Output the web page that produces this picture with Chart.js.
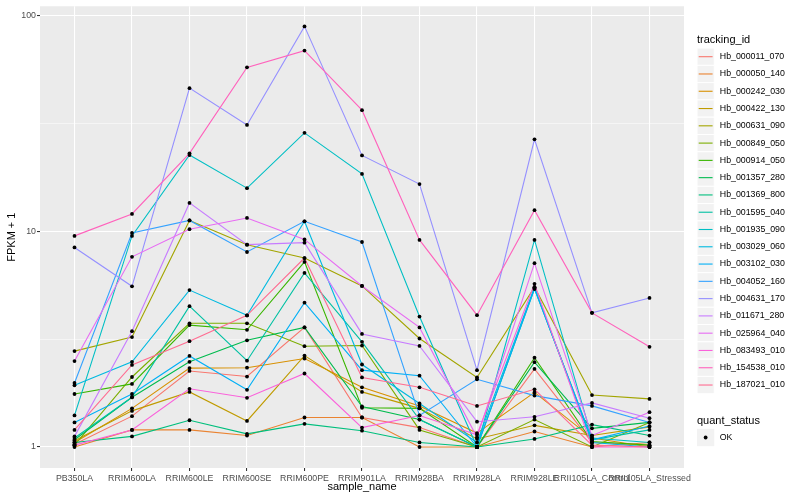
<!DOCTYPE html>
<html><head><meta charset="utf-8">
<script src="https://cdn.jsdelivr.net/npm/chart.js@4/dist/chart.umd.min.js"></script>
<style>html,body{margin:0;padding:0;background:#fff;}canvas{display:block;}</style>
</head><body>
<canvas id="c" width="800" height="500"></canvas>
<script>
const categories = ["PB350LA","RRIM600LA","RRIM600LE","RRIM600SE","RRIM600PE","RRIM901LA","RRIM928BA","RRIM928LA","RRIM928LE","RRII105LA_Control","RRII105LA_Stressed"];
const trackingIds = ["Hb_000011_070","Hb_000050_140","Hb_000242_030","Hb_000422_130","Hb_000631_090","Hb_000849_050","Hb_000914_050","Hb_001357_280","Hb_001369_800","Hb_001595_040","Hb_001935_090","Hb_003029_060","Hb_003102_030","Hb_004052_160","Hb_004631_170","Hb_011671_280","Hb_025964_040","Hb_083493_010","Hb_154538_010","Hb_187021_010"];
const seriesColors = ["#F8766D","#EA8331","#D89000","#C09B00","#A3A500","#7CAE00","#39B600","#00BB4E","#00BF7D","#00C1A3","#00BFC4","#00BAE0","#00B0F6","#35A2FF","#9590FF","#C77CFF","#E76BF3","#FA62DB","#FF62BC","#FF6C91"];

const hb_000011_070 = [1.03, 1.39, 2.25, 2.12, 3.58, 1.37, 1.23, 1.0, 2.3, 1.05, 1.02];
const hb_000050_140 = [1.0, 1.2, 1.2, 1.13, 1.37, 1.37, 1.0, 1.0, 1.18, 1.0, 1.05];
const hb_000242_030 = [1.05, 1.51, 2.32, 2.33, 2.57, 1.89, 1.55, 1.16, 1.79, 1.1, 1.0];
const hb_000422_130 = [1.07, 1.47, 1.8, 1.32, 2.65, 1.8, 1.51, 1.09, 1.26, 1.13, 1.24];
const hb_000631_090 = [2.78, 3.23, 11.2, 8.65, 7.5, 5.57, 3.18, 2.1, 5.5, 1.74, 1.67];
const hb_000849_050 = [1.02, 2.11, 3.74, 3.74, 2.93, 2.95, 1.2, 1.0, 1.34, 1.0, 1.3];
const hb_000914_050 = [1.76, 1.96, 3.67, 3.49, 7.2, 1.52, 1.51, 1.0, 2.59, 1.06, 1.02];
const hb_001357_280 = [1.08, 1.7, 2.48, 3.12, 3.58, 1.54, 1.34, 1.0, 2.47, 1.22, 1.3];
const hb_001369_800 = [1.05, 1.12, 1.33, 1.15, 1.28, 1.19, 1.05, 1.0, 1.09, 1.27, 1.13];
const hb_001595_040 = [1.1, 1.7, 4.49, 2.51, 6.4, 3.07, 1.34, 1.0, 5.4, 1.08, 1.2];
const hb_001935_090 = [1.4, 9.5, 22.5, 15.8, 28.5, 18.4, 4.02, 1.0, 9.1, 1.1, 1.05];
const hb_003029_060 = [1.93, 2.48, 5.33, 4.07, 11.1, 2.41, 1.59, 1.05, 5.5, 1.05, 1.0];
const hb_003102_030 = [1.3, 1.76, 2.64, 1.84, 4.66, 2.27, 2.14, 1.0, 5.4, 1.08, 1.25];
const hb_004052_160 = [1.98, 9.8, 11.2, 8.0, 11.1, 8.9, 1.4, 2.06, 1.73, 1.55, 1.3];
const hb_004631_170 = [8.4, 5.55, 45.9, 31, 88.7, 22.4, 16.5, 2.27, 26.6, 4.18, 4.9];
const hb_011671_280 = [1.12, 3.44, 13.5, 8.65, 8.84, 3.34, 2.94, 1.31, 1.38, 1.6, 1.36];
const hb_025964_040 = [2.5, 7.6, 10.2, 11.5, 9.15, 5.57, 3.58, 1.11, 7.1, 1.13, 1.45];
const hb_083493_010 = [1.02, 1.2, 1.86, 1.69, 2.19, 1.23, 1.4, 1.14, 5.7, 1.0, 1.0];
const hb_154538_010 = [9.5, 12, 22.9, 57.3, 68.5, 36.3, 9.1, 4.08, 12.5, 4.18, 2.91];
const hb_187021_010 = [1.2, 2.4, 3.09, 4.07, 7.5, 2.1, 1.89, 1.55, 1.85, 1.02, 1.0];

const seriesValues = [hb_000011_070, hb_000050_140, hb_000242_030, hb_000422_130, hb_000631_090, hb_000849_050, hb_000914_050, hb_001357_280, hb_001369_800, hb_001595_040, hb_001935_090, hb_003029_060, hb_003102_030, hb_004052_160, hb_004631_170, hb_011671_280, hb_025964_040, hb_083493_010, hb_154538_010, hb_187021_010];

const yMajorTicks = [1, 10, 100];
const yMinorTicks = [Math.sqrt(10), Math.sqrt(1000)];

const FONT = '"Liberation Sans", Arial, Helvetica, sans-serif';

const lineDatasets = seriesValues.map((vals, k) => ({
  label: trackingIds[k],
  data: vals.map((v, i) => ({x: i, y: v})),
  borderColor: seriesColors[k],
  backgroundColor: seriesColors[k],
  borderWidth: 1.1,
  pointRadius: 0,
  tension: 0,
  fill: false,
  order: 100 - k
}));
const pointDataset = {
  label: 'OK',
  data: seriesValues.flatMap(vals => vals.map((v, i) => ({x: i, y: v}))),
  showLine: false,
  pointRadius: 1.9,
  pointStyle: 'circle',
  pointBackgroundColor: '#000',
  pointBorderColor: '#000',
  pointBorderWidth: 0,
  order: 0
};

const panelBg = {
  id: 'panelBg',
  beforeDraw(chart) {
    const {ctx, chartArea: a} = chart;
    ctx.save();
    ctx.fillStyle = '#EBEBEB';
    ctx.fillRect(a.left, a.top, a.right - a.left, a.bottom - a.top);
    ctx.restore();
  }
};

const ggDecor = {
  id: 'ggDecor',
  afterDraw(chart) {
    const {ctx, chartArea: a} = chart;
    ctx.save();
    // axis titles
    ctx.fillStyle = '#000';
    ctx.font = '11px ' + FONT;
    ctx.textAlign = 'center';
    ctx.textBaseline = 'middle';
    ctx.fillText('sample_name', (a.left + a.right) / 2, 487);
    ctx.save();
    ctx.translate(12, (a.top + a.bottom) / 2);
    ctx.rotate(-Math.PI / 2);
    ctx.fillText('FPKM + 1', 0, 0);
    ctx.restore();
    // legend
    const lx = 697, key = 17.28;
    ctx.textAlign = 'left';
    ctx.font = '11px ' + FONT;
    ctx.fillText('tracking_id', lx, 40);
    ctx.font = '8.8px ' + FONT;
    trackingIds.forEach((id, k) => {
      const cy = 56.7 + key * k;
      ctx.fillStyle = '#F2F2F2';
      ctx.fillRect(lx, cy - key / 2, key, key);
      ctx.strokeStyle = '#FFFFFF';
      ctx.lineWidth = 1;
      ctx.strokeRect(lx, cy - key / 2, key, key);
      ctx.strokeStyle = seriesColors[k];
      ctx.lineWidth = 1.1;
      ctx.beginPath();
      ctx.moveTo(lx + 1.7, cy);
      ctx.lineTo(lx + key - 1.7, cy);
      ctx.stroke();
      ctx.fillStyle = '#000';
      ctx.fillText(id, lx + key + 5.5, cy);
    });
    ctx.font = '11px ' + FONT;
    ctx.fillText('quant_status', lx, 421);
    const cy2 = 437.5;
    ctx.fillStyle = '#F2F2F2';
    ctx.fillRect(lx, cy2 - key / 2, key, key);
    ctx.fillStyle = '#000';
    ctx.beginPath();
    ctx.arc(lx + key / 2, cy2, 1.9, 0, Math.PI * 2);
    ctx.fill();
    ctx.font = '8.8px ' + FONT;
    ctx.fillText('OK', lx + key + 5.5, cy2);
    ctx.restore();
  }
};

new Chart(document.getElementById('c'), {
  type: 'line',
  data: {datasets: [...lineDatasets, pointDataset]},
  options: {
    responsive: false,
    animation: false,
    devicePixelRatio: 1,
    layout: {padding: {left: 0, right: 116, top: 5, bottom: 0}},
    plugins: {legend: {display: false}, tooltip: {enabled: false}},
    scales: {
      x: {
        type: 'linear',
        min: -0.6,
        max: categories.length - 1 + 0.6,
        afterBuildTicks(scale) { scale.ticks = categories.map((c, i) => ({value: i})); },
        afterFit(scale) { scale.height = 32; },
        border: {display: false},
        grid: {color: '#FFFFFF', lineWidth: 1.07, drawTicks: true, tickLength: 3, tickColor: '#333333', tickWidth: 1.07},
        ticks: {
          autoSkip: false, maxRotation: 0, minRotation: 0, padding: 2,
          color: '#4D4D4D', font: {size: 8.8, family: FONT},
          callback: (v) => categories[v]
        }
      },
      y: {
        type: 'logarithmic',
        min: Math.pow(10, -0.0972),
        max: Math.pow(10, 2.041),
        afterBuildTicks(scale) {
          scale.ticks = [...yMajorTicks, ...yMinorTicks].sort((a, b) => a - b).map(v => ({value: v}));
        },
        afterFit(scale) { scale.width = 40; },
        border: {display: false},
        grid: {
          color: '#FFFFFF',
          lineWidth: (c) => yMajorTicks.includes(c.tick && c.tick.value) ? 1.07 : 0.53,
          drawTicks: true, tickLength: 3,
          tickColor: (c) => yMajorTicks.includes(c.tick && c.tick.value) ? '#333333' : 'rgba(0,0,0,0)',
          tickWidth: 1.07
        },
        ticks: {
          padding: 1, color: '#4D4D4D', font: {size: 8.8, family: FONT},
          callback: (v) => yMajorTicks.includes(v) ? String(v) : ''
        }
      }
    }
  },
  plugins: [panelBg, ggDecor]
});
</script>
</body></html>
